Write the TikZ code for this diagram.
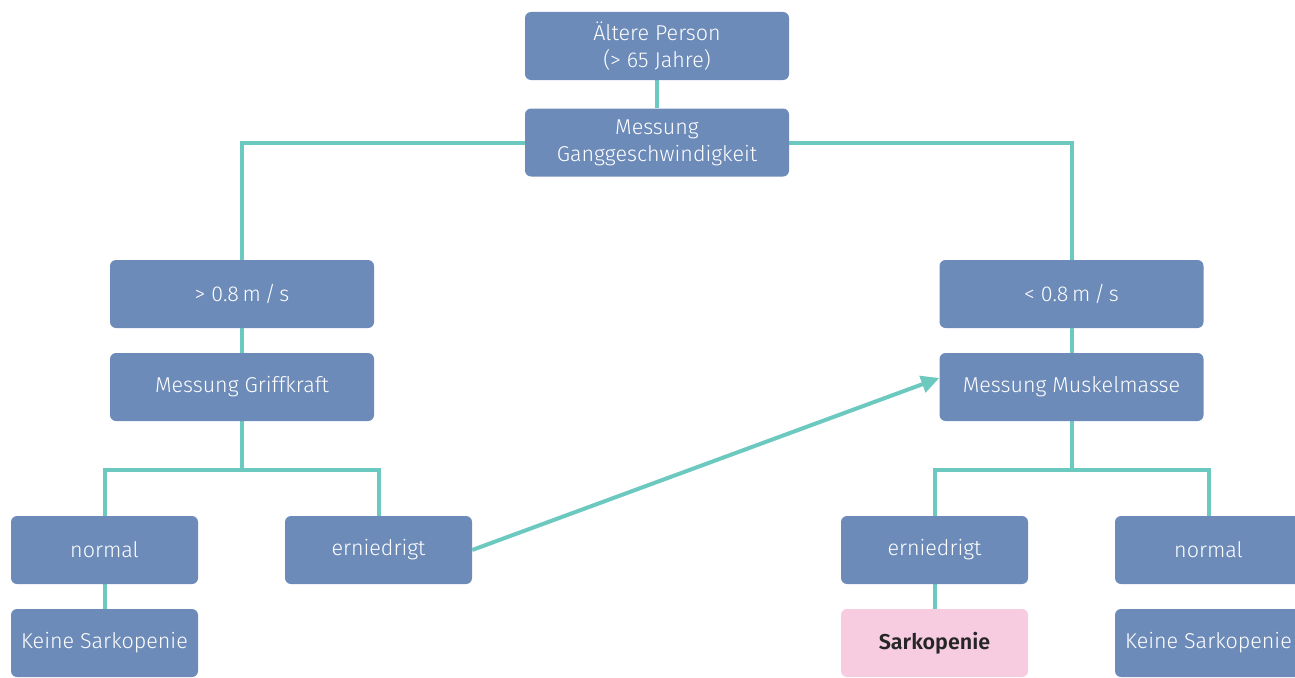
\documentclass[tikz,border=0pt]{standalone}
\usepackage{fontspec}
\setmainfont{Fira Sans}[UprightFont=* Light, BoldFont=* SemiBold]
\usetikzlibrary{arrows.meta,backgrounds}
\definecolor{boxblue}{HTML}{6D8BB9}
\definecolor{lineteal}{HTML}{6CC9C0}
\definecolor{pinkbox}{HTML}{F7CCE0}
\begin{document}
\begin{tikzpicture}[x=1pt,y=-1pt,
  box/.style={fill=boxblue, rounded corners=6pt, text=white, align=center,
    font=\fontsize{21.5}{27}\selectfont, inner sep=0pt},
  bigbox/.style={box, minimum width=264pt, minimum height=68pt},
  smallbox/.style={box, minimum width=187pt, minimum height=68pt},
  conn/.style={draw=lineteal, line width=4pt},
  arr/.style={conn, -{Triangle[length=18pt,width=17pt]}}]
\useasboundingbox (0,0) rectangle (1295,677);
\clip (0,0) rectangle (1295,677);
\node[bigbox] (top) at (657,46) {Ältere Person\\(> 65 Jahre)};
\node[bigbox] (gang) at (657,142.5) {Messung\\Ganggeschwindigkeit};
\node[bigbox] (gt) at (242,294) {> 0.8\,m\,/\,s};
\node[bigbox] (griff) at (242,387) {Messung Griffkraft};
\node[bigbox] (lt) at (1071.5,294) {< 0.8\,m\,/\,s};
\node[bigbox] (muskel) at (1071.5,387) {Messung Muskelmasse};
\node[smallbox] (norm1) at (104.5,550) {normal};
\node[smallbox] (ern1) at (378.5,550) {erniedrigt};
\node[smallbox] (keine1) at (104.5,643) {Keine Sarkopenie};
\node[smallbox] (ern2) at (934.5,550) {erniedrigt};
\node[smallbox] (norm2) at (1208.5,550) {normal};
\node[smallbox] (keine2) at (1208.5,643) {Keine Sarkopenie};
\node[smallbox, fill=pinkbox, text={black!85}, font=\fontsize{21.5}{27}\selectfont\bfseries] (sark) at (934.5,643) {Sarkopenie};
\coordinate (j1) at (242,470);
\coordinate (j2) at (1071.5,470);
\begin{scope}[on background layer]
\draw[conn] (top) -- (gang);
\draw[conn] (gang.west) -| (gt.north);
\draw[conn] (gang.east) -| (lt.north);
\draw[conn] (gt) -- (griff);
\draw[conn] (lt) -- (muskel);
\draw[conn] (griff.south) -- (j1);
\draw[conn] (j1) -| (norm1.north);
\draw[conn] (j1) -| (ern1.north);
\draw[conn] (muskel.south) -- (j2);
\draw[conn] (j2) -| (ern2.north);
\draw[conn] (j2) -| (norm2.north);
\draw[conn] (norm1) -- (keine1);
\draw[conn] (ern2) -- (sark);
\end{scope}
\draw[arr] (ern1.east) -- (muskel.west |- 0,378);
\end{tikzpicture}
\end{document}
